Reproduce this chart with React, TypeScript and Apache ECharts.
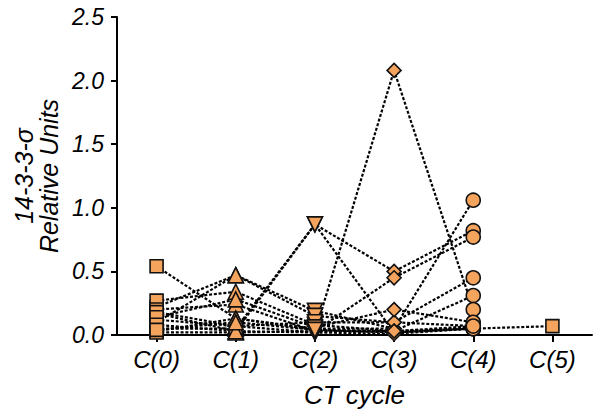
import React, { useEffect, useRef } from "react";
import * as echarts from "echarts";

const categories = ["C(0)", "C(1)", "C(2)", "C(3)", "C(4)", "C(5)"];
const yTicks = [0, 0.5, 1.0, 1.5, 2.0, 2.5];

// one array per patient, value per CT cycle (null = not measured)
const p1 = [0.54, 0.13, 0.04, 0.02, 0.05, null];
const p2 = [0.22, 0.47, 0.19, 0.05, null, null];
const p3 = [0.10, 0.47, 0.15, 0.10, 0.07, null];
const p4 = [0.27, 0.34, 0.08, 0.03, 0.31, null];
const p5 = [0.17, 0.03, 0.87, 0.50, 0.82, null];
const p6 = [0.05, 0.05, 0.87, 0.02, 0.06, null];
const p7 = [0.20, 0.24, 0.03, 0.45, 0.77, null];
const p8 = [0.12, 0.07, 0.02, 2.08, 0.20, null];
const p9 = [0.03, 0.13, 0.05, 0.05, 1.06, null];
const p10 = [0.18, 0.07, 0.10, 0.10, 0.45, null];
const p11 = [0.02, 0.02, 0.03, 0.03, 0.05, 0.07];
const p12 = [0.14, 0.28, 0.06, 0.20, 0.10, null];
const p13 = [0.08, 0.03, 0.02, 0.01, 0.05, null];
const p14 = [0.04, 0.10, 0.04, 0.03, 0.07, null];

const patients = [p1, p2, p3, p4, p5, p6, p7, p8, p9, p10, p11, p12, p13, p14];

const markerShapes = ["rect", "triangle", "triangle", "diamond", "circle", "rect"];
const markerRotate = [0, 0, 180, 0, 0, 0];
const markerSizes = [13, 15, 15, 14, 14, 13];

const FONT = "'Liberation Sans', Arial, sans-serif";
const FILL = "#F5A45D";

export default function App() {
  const ref = useRef<HTMLDivElement>(null);
  useEffect(() => {
    if (!ref.current) return;
    const chart = echarts.init(ref.current, null, { renderer: "svg" });

    const lineSeries = patients.map((p, i) => ({
      type: "line",
      name: "P" + (i + 1),
      data: p,
      symbol: "none",
      connectNulls: false,
      lineStyle: { color: "#000", width: 2.2, type: [3, 1.8] },
      z: 2,
      silent: true,
    }));

    const markerSeries = categories.map((c, ci) => ({
      type: "scatter",
      name: c,
      symbol: markerShapes[ci],
      symbolRotate: markerRotate[ci],
      symbolSize: markerSizes[ci],
      itemStyle: { color: FILL, borderColor: "#111", borderWidth: 1.6, opacity: 1 },
      data: patients
        .filter((p) => p[ci] !== null && p[ci] !== undefined)
        .map((p) => [ci, p[ci]]),
      z: 5,
      silent: true,
    }));

    chart.setOption({
      animation: false,
      backgroundColor: "#fff",
      grid: { left: 117, right: 8, top: 17, bottom: 81, outerBoundsMode: "none", containLabel: false },
      xAxis: {
        type: "category",
        data: categories,
        boundaryGap: true,
        name: "CT cycle",
        nameLocation: "middle",
        nameGap: 47,
        nameTextStyle: { fontFamily: FONT, fontStyle: "italic", fontSize: 26, color: "#000" },
        axisLine: { show: true, lineStyle: { color: "#000", width: 2 } },
        axisTick: { show: true, alignWithLabel: true, length: 7, lineStyle: { color: "#000", width: 2 } },
        axisLabel: { fontFamily: FONT, fontStyle: "italic", fontSize: 24, color: "#000", margin: 12 },
        splitLine: { show: false },
      },
      yAxis: {
        type: "value",
        min: yTicks[0],
        max: yTicks[yTicks.length - 1],
        interval: 0.5,
        name: "14-3-3-σ\nRelative Units",
        nameLocation: "middle",
        nameRotate: 90,
        nameGap: 47,
        nameTextStyle: { fontFamily: FONT, fontStyle: "italic", fontSize: 25, color: "#000", lineHeight: 25 },
        axisLine: { show: true, lineStyle: { color: "#000", width: 2 } },
        axisTick: { show: true, length: 6, lineStyle: { color: "#000", width: 2 } },
        axisLabel: {
          fontFamily: FONT,
          fontStyle: "italic",
          fontSize: 23,
          color: "#000",
          margin: 13,
          formatter: (v: number) => v.toFixed(1),
        },
        splitLine: { show: false },
      },
      series: [...lineSeries, ...markerSeries],
    });

    return () => chart.dispose();
  }, []);

  return <div ref={ref} style={{ width: 600, height: 416, position: "absolute", left: 0, top: 0 }} />;
}
